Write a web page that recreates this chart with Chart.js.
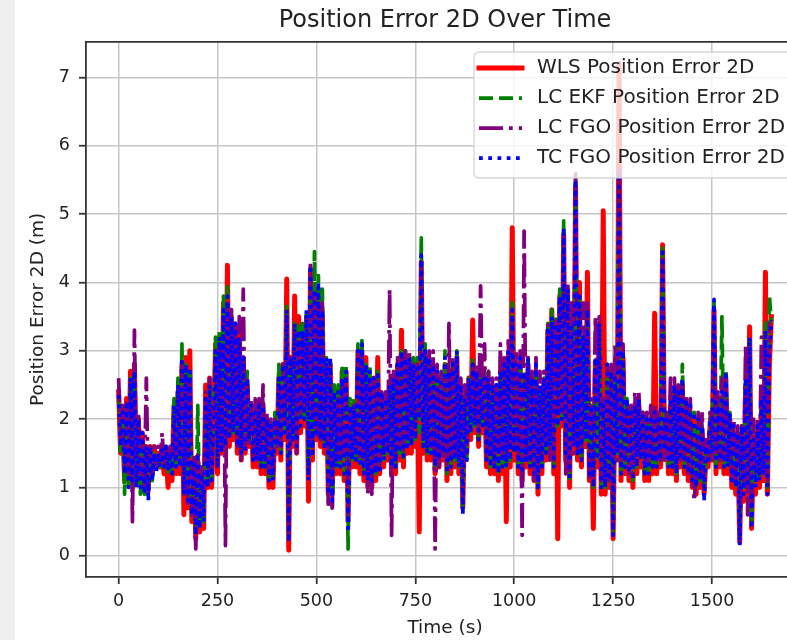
<!DOCTYPE html>
<html>
<head>
<meta charset="utf-8">
<script src="https://cdn.jsdelivr.net/npm/chart.js@4.4.1/dist/chart.umd.min.js"></script>
<style>
  html, body { margin: 0; padding: 0; background: #fff; overflow: hidden; }
  #strip { position: absolute; left: 0; top: 0; width: 15px; height: 640px; background: #efefef; }
  #wrap { position: absolute; left: 0; top: 0; width: 804px; height: 640px; }
</style>
</head>
<body>
<div id="strip"></div>
<div id="wrap"><canvas id="posErrChart" width="804" height="640"></canvas></div>
<script>
// Position Error 2D Over Time - four estimators (5 s steps)

const times = [
  0, 5, 10, 15, 20, 25, 30, 35, 40, 45,
  50, 55, 60, 65, 70, 75, 80, 85, 90, 95,
  100, 105, 110, 115, 120, 125, 130, 135, 140, 145,
  150, 155, 160, 165, 170, 175, 180, 185, 190, 195,
  200, 205, 210, 215, 220, 225, 230, 235, 240, 245,
  250, 255, 260, 265, 270, 275, 280, 285, 290, 295,
  300, 305, 310, 315, 320, 325, 330, 335, 340, 345,
  350, 355, 360, 365, 370, 375, 380, 385, 390, 395,
  400, 405, 410, 415, 420, 425, 430, 435, 440, 445,
  450, 455, 460, 465, 470, 475, 480, 485, 490, 495,
  500, 505, 510, 515, 520, 525, 530, 535, 540, 545,
  550, 555, 560, 565, 570, 575, 580, 585, 590, 595,
  600, 605, 610, 615, 620, 625, 630, 635, 640, 645,
  650, 655, 660, 665, 670, 675, 680, 685, 690, 695,
  700, 705, 710, 715, 720, 725, 730, 735, 740, 745,
  750, 755, 760, 765, 770, 775, 780, 785, 790, 795,
  800, 805, 810, 815, 820, 825, 830, 835, 840, 845,
  850, 855, 860, 865, 870, 875, 880, 885, 890, 895,
  900, 905, 910, 915, 920, 925, 930, 935, 940, 945,
  950, 955, 960, 965, 970, 975, 980, 985, 990, 995,
  1000, 1005, 1010, 1015, 1020, 1025, 1030, 1035, 1040, 1045,
  1050, 1055, 1060, 1065, 1070, 1075, 1080, 1085, 1090, 1095,
  1100, 1105, 1110, 1115, 1120, 1125, 1130, 1135, 1140, 1145,
  1150, 1155, 1160, 1165, 1170, 1175, 1180, 1185, 1190, 1195,
  1200, 1205, 1210, 1215, 1220, 1225, 1230, 1235, 1240, 1245,
  1250, 1255, 1260, 1265, 1270, 1275, 1280, 1285, 1290, 1295,
  1300, 1305, 1310, 1315, 1320, 1325, 1330, 1335, 1340, 1345,
  1350, 1355, 1360, 1365, 1370, 1375, 1380, 1385, 1390, 1395,
  1400, 1405, 1410, 1415, 1420, 1425, 1430, 1435, 1440, 1445,
  1450, 1455, 1460, 1465, 1470, 1475, 1480, 1485, 1490, 1495,
  1500, 1505, 1510, 1515, 1520, 1525, 1530, 1535, 1540, 1545,
  1550, 1555, 1560, 1565, 1570, 1575, 1580, 1585, 1590, 1595,
  1600, 1605, 1610, 1615, 1620, 1625, 1630, 1635, 1640, 1645,
  1650
];

const wlsErr = [
  2.4, 1.5, 2.1, 1.1, 2.3, 1.1, 2.7, 1.0, 2.8, 1.1,
  2.0, 1.1, 1.8, 1.0, 1.6, 1.0, 1.6, 1.2, 1.6, 1.3,
  1.5, 1.3, 1.5, 1.2, 1.5, 1.0, 1.5, 1.1, 2.2, 1.2,
  2.4, 1.2, 2.8, 0.6, 2.9, 0.7, 3.0, 0.5, 1.4, 0.25,
  1.4, 0.35, 1.2, 0.4, 2.5, 1.0, 2.6, 1.0, 1.8, 3.1,
  1.2, 3.2, 1.5, 3.7, 1.5, 4.25, 1.6, 3.5, 1.7, 3.3,
  1.5, 3.3, 1.4, 2.9, 1.5, 2.5, 1.6, 2.1, 1.3, 2.0,
  1.3, 2.1, 1.2, 2.1, 1.2, 1.9, 1.0, 1.8, 1.0, 1.9,
  1.5, 2.6, 1.4, 2.8, 1.7, 4.05, 0.08, 2.9, 1.6, 3.8,
  1.5, 3.5, 1.8, 3.3, 1.9, 3.5, 0.8, 4.2, 1.4, 3.8,
  1.7, 3.9, 1.6, 3.5, 1.5, 2.8, 0.9, 2.8, 0.9, 2.4,
  1.2, 2.4, 1.2, 2.7, 1.1, 2.7, 0.5, 2.2, 1.3, 2.2,
  1.3, 3.0, 1.2, 3.0, 1.1, 2.9, 1.0, 2.6, 1.0, 2.6,
  1.1, 2.9, 1.2, 2.3, 1.3, 2.2, 1.4, 2.4, 1.2, 2.5,
  1.2, 2.8, 1.4, 3.3, 1.3, 2.8, 1.5, 2.8, 1.5, 2.7,
  1.6, 2.7, 0.35, 4.3, 1.5, 2.9, 1.4, 2.8, 1.4, 2.7,
  1.2, 2.6, 1.3, 2.5, 1.4, 2.8, 1.1, 2.6, 1.2, 2.7,
  1.3, 2.9, 1.2, 2.4, 0.7, 2.2, 1.5, 2.6, 1.7, 3.45,
  1.8, 2.6, 1.6, 2.5, 1.8, 2.5, 1.3, 2.5, 1.2, 2.4,
  1.2, 2.4, 1.1, 2.6, 1.2, 2.7, 0.5, 2.9, 1.3, 4.8,
  1.4, 2.7, 1.2, 2.8, 1.1, 2.6, 1.3, 2.8, 1.2, 2.5,
  1.1, 2.7, 0.9, 2.4, 1.2, 2.5, 1.4, 3.3, 1.5, 3.6,
  1.2, 3.4, 0.25, 3.8, 1.9, 4.7, 1.4, 3.9, 1.0, 3.4,
  1.5, 5.4, 1.4, 4.0, 1.3, 3.1, 1.6, 4.15, 1.1, 2.1,
  0.4, 2.8, 1.3, 3.3, 0.9, 5.05, 0.9, 2.7, 1.0, 2.6,
  0.25, 2.5, 1.4, 7.2, 1.1, 2.9, 1.2, 2.2, 1.1, 2.0,
  1.0, 2.1, 1.2, 2.2, 1.3, 2.0, 1.1, 1.9, 1.1, 1.9,
  1.2, 3.55, 1.2, 1.9, 1.3, 4.55, 1.5, 1.9, 1.2, 2.2,
  1.2, 2.4, 1.1, 2.3, 1.3, 2.5, 1.2, 2.2, 1.1, 2.1,
  1.0, 2.0, 0.9, 1.9, 1.0, 1.8, 0.9, 1.5, 1.3, 1.9,
  1.4, 3.6, 1.2, 2.1, 1.3, 2.3, 1.2, 2.6, 1.2, 2.0,
  1.0, 1.8, 0.9, 1.7, 0.2, 1.8, 0.8, 2.5, 0.9, 3.35,
  0.4, 1.6, 0.9, 1.8, 1.0, 2.2, 1.1, 4.15, 0.9, 2.8,
  3.5
];

const lcEkfErr = [
  2.3, 1.5, 2.0, 0.9, 2.2, 1.0, 2.6, 1.0, 2.8, 1.0,
  2.0, 0.9, 1.7, 0.9, 1.5, 0.9, 1.5, 1.1, 1.5, 1.3,
  1.5, 1.3, 1.5, 1.3, 1.5, 1.2, 1.5, 1.2, 2.3, 1.3,
  2.6, 1.3, 3.1, 0.9, 2.8, 0.8, 2.7, 0.6, 1.4, 0.35,
  2.2, 0.5, 1.3, 0.5, 2.3, 1.1, 2.6, 1.1, 2.0, 3.2,
  1.4, 3.3, 1.6, 3.8, 1.6, 4.0, 1.8, 3.6, 1.8, 3.4,
  1.6, 3.2, 1.5, 2.9, 1.6, 2.7, 1.7, 2.2, 1.4, 2.2,
  1.4, 2.3, 1.3, 2.3, 1.3, 2.0, 1.1, 2.0, 1.1, 2.1,
  1.6, 2.8, 1.5, 2.8, 1.8, 3.7, 0.3, 2.9, 1.7, 3.4,
  1.7, 3.4, 2.0, 3.4, 2.0, 3.6, 1.2, 4.0, 1.6, 4.45,
  1.8, 4.1, 1.7, 3.9, 1.6, 2.9, 0.8, 2.9, 0.7, 2.5,
  1.3, 2.5, 1.3, 2.8, 1.2, 2.8, 0.1, 2.3, 1.4, 2.3,
  1.4, 3.1, 1.3, 3.15, 1.2, 2.8, 1.1, 2.8, 1.1, 2.6,
  1.2, 2.7, 1.2, 2.4, 1.4, 2.3, 1.5, 2.5, 1.3, 2.6,
  1.3, 2.8, 1.5, 3.0, 1.4, 3.0, 1.6, 2.9, 1.6, 2.9,
  1.7, 2.9, 1.8, 4.65, 1.6, 3.1, 1.5, 2.9, 1.5, 2.8,
  1.3, 2.7, 1.4, 2.6, 1.5, 3.0, 1.2, 2.8, 1.3, 2.8,
  1.4, 3.0, 1.3, 2.5, 0.7, 2.3, 1.4, 2.6, 1.8, 2.9,
  1.9, 2.7, 1.7, 2.6, 1.9, 2.7, 1.4, 2.7, 1.3, 2.5,
  1.3, 2.5, 1.2, 2.7, 1.3, 2.8, 1.3, 3.0, 1.4, 3.7,
  1.5, 2.8, 1.3, 2.9, 1.2, 2.7, 1.4, 2.9, 1.3, 2.6,
  1.2, 2.8, 1.0, 2.5, 1.3, 2.6, 1.5, 3.4, 1.6, 3.6,
  1.3, 3.5, 1.9, 3.9, 2.0, 4.9, 1.5, 4.0, 1.1, 3.4,
  1.6, 5.5, 1.5, 3.8, 1.4, 3.2, 1.7, 3.6, 1.2, 2.2,
  1.0, 2.9, 1.4, 3.4, 1.0, 2.2, 1.0, 2.8, 1.1, 2.7,
  0.35, 2.6, 1.5, 5.6, 1.2, 3.0, 1.3, 2.3, 1.2, 2.2,
  1.1, 2.2, 1.3, 2.3, 1.4, 2.1, 1.2, 2.0, 1.2, 2.0,
  1.3, 2.1, 1.3, 2.1, 1.4, 4.5, 1.6, 2.0, 1.3, 2.3,
  1.3, 2.5, 1.2, 2.4, 1.4, 2.8, 1.3, 2.3, 1.2, 2.2,
  1.1, 2.1, 1.0, 2.0, 1.1, 1.9, 1.0, 1.6, 1.4, 2.0,
  1.5, 3.7, 1.3, 2.2, 1.4, 3.5, 1.3, 2.7, 1.3, 2.1,
  1.1, 1.9, 1.0, 1.8, 0.25, 1.9, 1.0, 2.6, 1.0, 3.2,
  0.5, 1.7, 1.1, 1.9, 1.1, 2.3, 1.2, 3.4, 1.0, 3.8,
  3.4
];

const lcFgoErr = [
  2.6, 1.7, 2.2, 1.3, 2.3, 1.2, 2.6, 0.5, 3.3, 1.1,
  2.1, 1.2, 1.7, 1.0, 2.6, 0.9, 1.6, 1.2, 1.6, 1.3,
  1.6, 1.4, 1.8, 1.3, 1.6, 1.3, 1.6, 1.3, 2.0, 1.4,
  2.5, 1.4, 2.8, 0.9, 2.6, 0.7, 2.6, 0.6, 1.5, 0.1,
  1.5, 0.6, 1.3, 0.6, 2.4, 1.2, 2.6, 1.2, 1.9, 2.9,
  1.3, 3.1, 1.6, 3.5, 0.15, 3.7, 1.8, 3.6, 1.9, 3.4,
  1.6, 3.5, 1.4, 3.9, 1.6, 2.6, 1.6, 2.3, 1.4, 2.3,
  1.4, 2.3, 1.4, 2.5, 1.4, 2.1, 1.2, 2.0, 1.2, 2.0,
  1.6, 2.5, 1.6, 2.8, 1.9, 3.5, 0.3, 2.9, 1.8, 3.3,
  1.5, 3.2, 2.1, 3.3, 2.1, 3.5, 1.2, 4.3, 1.6, 3.8,
  1.7, 3.7, 1.7, 3.7, 1.7, 2.8, 0.7, 2.8, 0.7, 2.3,
  1.4, 2.3, 1.4, 2.6, 1.4, 2.6, 0.6, 2.2, 1.5, 2.2,
  1.5, 3.0, 1.4, 3.0, 1.3, 2.6, 0.9, 2.6, 0.9, 2.6,
  1.3, 2.6, 1.3, 2.4, 1.5, 2.4, 1.5, 3.9, 0.3, 2.7,
  1.4, 2.9, 1.6, 2.9, 1.5, 3.0, 1.7, 3.0, 1.7, 2.8,
  1.8, 2.8, 2.1, 4.3, 1.7, 3.0, 1.6, 3.0, 1.6, 3.0,
  0.1, 2.8, 1.3, 2.7, 1.4, 2.6, 1.3, 3.4, 1.4, 2.9,
  1.5, 2.9, 1.4, 2.6, 0.8, 2.5, 1.5, 2.6, 2.0, 2.8,
  2.0, 2.8, 1.8, 3.95, 2.1, 3.1, 1.4, 2.7, 1.5, 2.6,
  1.3, 2.6, 1.4, 3.1, 1.4, 2.9, 1.4, 3.2, 1.6, 3.5,
  1.6, 3.0, 1.4, 3.0, 0.3, 4.75, 1.4, 2.9, 1.4, 2.7,
  1.1, 2.9, 1.1, 2.7, 1.4, 2.7, 1.6, 3.4, 1.4, 3.4,
  1.4, 3.5, 2.1, 3.7, 2.1, 4.7, 1.2, 4.0, 1.2, 3.7,
  1.5, 5.65, 1.5, 3.7, 1.5, 3.7, 2.3, 3.7, 1.1, 2.3,
  1.1, 3.5, 2.3, 3.5, 1.1, 2.3, 1.1, 2.8, 1.1, 2.8,
  0.4, 3.1, 1.4, 5.65, 1.4, 3.1, 1.4, 2.2, 1.2, 2.2,
  1.2, 2.4, 1.5, 2.4, 1.5, 2.1, 1.3, 2.1, 1.3, 2.2,
  1.4, 2.2, 1.4, 2.1, 1.4, 4.4, 1.4, 2.1, 1.4, 2.6,
  1.3, 2.6, 1.3, 2.5, 1.4, 2.5, 1.4, 2.3, 1.2, 2.3,
  1.2, 0.8, 1.2, 2.1, 1.1, 2.1, 1.1, 1.7, 1.4, 2.1,
  1.4, 3.6, 1.4, 2.4, 1.4, 2.6, 1.4, 2.6, 1.4, 2.0,
  1.1, 2.0, 1.1, 1.9, 0.3, 1.9, 1.1, 3.1, 0.6, 3.1,
  0.6, 2.0, 1.2, 2.0, 1.2, 3.2, 1.2, 3.2, 1.1, 3.4,
  3.4
];

const tcFgoErr = [
  2.35, 1.6, 2.1, 1.2, 2.2, 1.0, 2.6, 1.1, 2.7, 1.0,
  2.0, 1.0, 1.8, 0.9, 1.6, 0.8, 1.6, 1.1, 1.5, 1.2,
  1.5, 1.3, 1.55, 1.3, 1.6, 1.25, 1.5, 1.2, 2.2, 1.3,
  2.5, 1.3, 2.9, 0.9, 2.8, 0.8, 2.7, 0.6, 1.4, 0.3,
  1.5, 0.4, 1.2, 0.5, 2.3, 1.0, 2.5, 1.1, 1.9, 3.0,
  1.3, 3.2, 1.5, 3.6, 1.6, 3.8, 1.7, 3.5, 1.8, 3.4,
  1.6, 3.2, 1.5, 2.9, 1.5, 2.6, 1.7, 2.2, 1.4, 2.1,
  1.4, 2.2, 1.3, 2.2, 1.3, 2.0, 1.1, 1.9, 1.1, 2.0,
  1.6, 2.6, 1.5, 2.8, 1.8, 3.6, 0.2, 2.9, 1.7, 3.4,
  1.6, 3.3, 1.9, 3.3, 2.0, 3.6, 1.1, 4.25, 1.5, 3.9,
  1.8, 4.0, 1.7, 3.6, 1.6, 2.9, 0.9, 2.9, 0.8, 2.4,
  1.3, 2.4, 1.3, 2.6, 1.2, 2.7, 0.4, 2.2, 1.4, 2.2,
  1.4, 3.0, 1.3, 3.1, 1.2, 2.8, 1.1, 2.7, 1.1, 2.6,
  1.2, 2.7, 1.2, 2.4, 1.4, 2.3, 1.5, 2.5, 1.3, 2.6,
  1.3, 2.8, 1.5, 3.0, 1.4, 2.9, 1.6, 2.9, 1.6, 2.8,
  1.7, 2.8, 2.0, 4.4, 1.6, 3.0, 1.5, 2.9, 1.5, 2.8,
  1.3, 2.7, 1.4, 2.6, 1.5, 2.9, 1.2, 2.7, 1.3, 2.8,
  1.4, 3.0, 1.3, 2.5, 0.6, 2.3, 1.4, 2.6, 1.8, 2.8,
  1.9, 2.7, 1.7, 2.6, 1.9, 2.6, 1.4, 2.6, 1.3, 2.5,
  1.3, 2.5, 1.2, 2.7, 1.3, 2.8, 1.3, 3.0, 1.4, 3.6,
  1.5, 2.8, 1.3, 2.9, 1.2, 2.7, 1.4, 2.9, 1.3, 2.6,
  1.2, 2.8, 1.0, 2.5, 1.3, 2.6, 1.5, 3.3, 1.6, 3.5,
  1.3, 3.4, 1.9, 3.8, 2.0, 4.8, 1.5, 3.9, 1.1, 3.4,
  1.6, 5.5, 1.5, 3.8, 1.4, 3.2, 1.7, 3.6, 1.2, 2.2,
  1.0, 2.9, 1.4, 3.4, 1.0, 2.2, 1.0, 2.8, 1.1, 2.7,
  0.3, 2.6, 1.5, 5.6, 1.2, 3.0, 1.3, 2.3, 1.2, 2.1,
  1.1, 2.2, 1.3, 2.3, 1.4, 2.1, 1.2, 2.0, 1.2, 2.0,
  1.3, 2.1, 1.3, 2.0, 1.4, 4.5, 1.6, 2.0, 1.3, 2.3,
  1.3, 2.5, 1.2, 2.4, 1.4, 2.6, 1.3, 2.3, 1.2, 2.2,
  1.1, 2.1, 1.0, 2.0, 1.1, 1.9, 0.8, 1.6, 1.4, 2.0,
  1.5, 3.75, 1.3, 2.2, 1.4, 2.4, 1.3, 2.7, 1.3, 2.1,
  1.1, 1.9, 1.0, 1.8, 0.15, 1.9, 0.9, 2.6, 1.0, 3.2,
  0.4, 1.7, 1.0, 1.9, 1.1, 2.3, 1.2, 3.3, 0.9, 2.9,
  3.45
];

const seriesNames = [
  'WLS Position Error 2D',
  'LC EKF Position Error 2D',
  'LC FGO Position Error 2D',
  'TC FGO Position Error 2D'
];

const xTicks = [0, 250, 500, 750, 1000, 1250, 1500];
const yTicks = [0, 1, 2, 3, 4, 5, 6, 7];

const FONT = 'DejaVu Sans';

// line looks, same order as seriesNames
const styles = [
  { color: '#ff0000', width: 5, dash: [], cap: 'square' },
  { color: '#008000', width: 3.75, dash: [14, 6], cap: 'butt' },
  { color: '#800080', width: 3.75, dash: [24, 6, 3.75, 6], cap: 'butt' },
  { color: '#0000ff', width: 3.75, dash: [3.75, 5.5], cap: 'butt' }
];

const seriesValues = [wlsErr, lcEkfErr, lcFgoErr, tcFgoErr];

function toPoints(vals) {
  return times.map((t, i) => ({ x: t, y: vals[i] }));
}

// blue first so it ends up on top (chart.js paints dataset 0 last)
const datasets = [3, 2, 1, 0].map(i => ({
  label: seriesNames[i],
  data: toPoints(seriesValues[i]),
  borderColor: styles[i].color,
  borderWidth: styles[i].width,
  borderDash: styles[i].dash,
  borderCapStyle: styles[i].cap,
  borderJoinStyle: 'round',
  pointRadius: 0,
  tension: 0,
  fill: false
}));

// top spine + matplotlib-like legend box in the upper right
const frameAndLegend = {
  id: 'frameAndLegend',
  afterDraw(chart) {
    const { ctx, chartArea } = chart;
    ctx.save();
    ctx.strokeStyle = '#333';
    ctx.lineWidth = 1.8;
    ctx.setLineDash([]);
    ctx.beginPath();
    ctx.moveTo(chartArea.left, chartArea.top);
    ctx.lineTo(chartArea.right, chartArea.top);
    ctx.lineTo(chartArea.right, chartArea.bottom);
    ctx.stroke();

    const bx = 474, by = 52, bw = 320, bh = 126;
    ctx.beginPath();
    ctx.roundRect(bx, by, bw, bh, 5);
    ctx.fillStyle = 'rgba(255,255,255,0.8)';
    ctx.fill();
    ctx.strokeStyle = 'rgba(204,204,204,0.8)';
    ctx.lineWidth = 1.3;
    ctx.stroke();

    ctx.font = '20px "' + FONT + '"';
    ctx.textBaseline = 'middle';
    ctx.textAlign = 'left';
    seriesNames.forEach((name, i) => {
      const y = 68 + i * 30;
      const st = styles[i];
      ctx.strokeStyle = st.color;
      ctx.lineWidth = st.width;
      ctx.lineCap = st.cap;
      ctx.setLineDash(st.dash);
      ctx.beginPath();
      ctx.moveTo(479, y);
      ctx.lineTo(522, y);
      ctx.stroke();
      ctx.fillStyle = '#222';
      ctx.fillText(name, 537, y);
    });
    ctx.restore();
  }
};

const gridStyle = {
  color: '#c6c6c6',
  lineWidth: 1.5,
  tickColor: '#333',
  tickLength: 7,
  tickWidth: 1.8
};

new Chart(document.getElementById('posErrChart'), {
  type: 'line',
  data: { datasets: datasets },
  options: {
    responsive: false,
    animation: false,
    events: [],
    layout: { padding: 0 },
    plugins: {
      legend: { display: false },
      tooltip: { enabled: false },
      title: {
        display: true,
        fullSize: false,
        text: 'Position Error 2D Over Time',
        color: '#222',
        font: { family: FONT, size: 24, weight: 'normal' },
        padding: { top: 6, bottom: 7 }
      }
    },
    scales: {
      x: {
        type: 'linear',
        min: -82.5,
        max: 1732.5,
        afterBuildTicks: s => { s.ticks = xTicks.map(v => ({ value: v })); },
        afterFit: s => { s.height = 63; },
        grid: gridStyle,
        border: { color: '#333', width: 1.8 },
        ticks: {
          color: '#222',
          padding: 6.5,
          maxRotation: 0,
          font: { family: FONT, size: 17.5 },
          callback: v => String(v)
        },
        title: {
          display: true,
          text: 'Time (s)',
          color: '#222',
          font: { family: FONT, size: 18.5 },
          padding: { top: 0, bottom: 1 }
        }
      },
      y: {
        type: 'linear',
        min: -0.31,
        max: 7.52,
        afterBuildTicks: s => { s.ticks = yTicks.map(v => ({ value: v })); },
        afterFit: s => { s.width = 86; },
        grid: gridStyle,
        border: { color: '#333', width: 1.8 },
        ticks: {
          color: '#222',
          padding: 9,
          font: { family: FONT, size: 17.5 },
          callback: v => String(v)
        },
        title: {
          display: true,
          text: 'Position Error 2D (m)',
          color: '#222',
          font: { family: FONT, size: 18.5 },
          padding: { top: 27, bottom: 0 }
        }
      }
    }
  },
  plugins: [frameAndLegend]
});
</script>
</body>
</html>
